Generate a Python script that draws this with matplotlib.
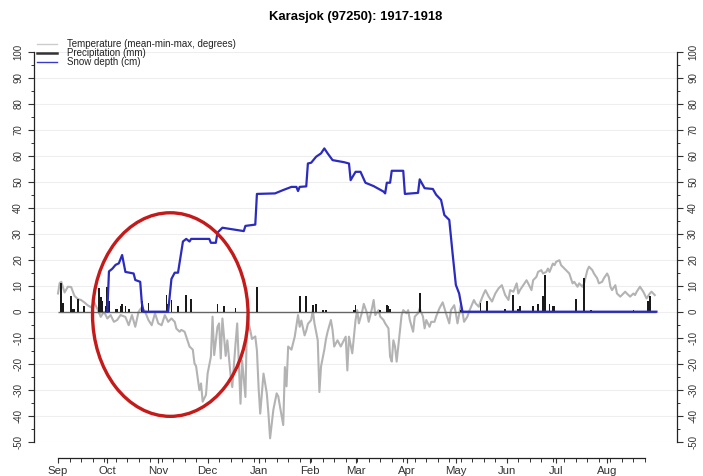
import matplotlib
matplotlib.use("Agg")
import matplotlib.pyplot as plt
from matplotlib.lines import Line2D
from matplotlib.patches import Ellipse
import numpy as np

plt.rcParams['font.family'] = ['Liberation Sans', 'DejaVu Sans']

title = "Karasjok (97250): 1917-1918"
legend_labels = ["Temperature (mean-min-max, degrees)", "Precipitation (mm)", "Snow depth (cm)"]

month_labels = ["Sep", "Oct", "Nov", "Dec", "Jan", "Feb", "Mar", "Apr", "May", "Jun", "Jul", "Aug"]
month_days = [0, 30, 61, 91, 122, 153, 181, 212, 242, 273, 303, 334]

# day index counted from 1 Sep 1917
temp_days = [0, 1, 2, 4, 6, 8, 10, 12, 14, 16, 18, 20, 22, 24, 26, 28, 30, 32, 34, 36,
             38, 41, 43, 45, 47, 49, 51, 53, 55, 57, 59, 61, 63, 65, 67, 69, 71, 72, 74, 75,
             77, 78, 80, 81, 82, 83, 84, 86, 87, 88, 90, 91, 93, 94, 95, 97, 98, 99, 100, 102,
             103, 105, 106, 108, 109, 111, 112, 114, 115, 117, 118, 120, 121, 122, 123, 125, 127, 128, 129, 131,
             133, 134, 135, 137, 138, 139, 140, 142, 143, 144, 146, 147, 148, 150, 151, 152, 154, 155, 156, 158,
             159, 160, 162, 163, 164, 166, 167, 168, 170, 172, 173, 175, 176, 177, 179, 180, 181, 182, 183, 185,
             186, 188, 189, 191, 192, 193, 195, 196, 198, 199, 201, 202, 203, 204, 205, 206, 208, 209, 210, 212,
             213, 214, 216, 217, 219, 220, 222, 223, 224, 226, 227, 229, 230, 232, 234, 236, 238, 239, 241, 242,
             243, 245, 246, 247, 249, 250, 253, 254, 256, 257, 259, 260, 262, 264, 266, 268, 270, 272, 274, 275,
             277, 279, 280, 281, 283, 285, 286, 288, 289, 291, 292, 294, 295, 297, 298, 299, 301, 302, 303, 305,
             306, 308, 309, 311, 313, 314, 316, 317, 319, 320, 322, 323, 325, 326, 328, 329, 331, 332, 334, 335,
             336, 337, 339, 340, 342, 343, 345, 346, 348, 350, 351, 352, 354, 356, 357, 358, 360, 361, 363]
temp_vals = [7.0, 11.0, 11.5, 7.4, 9.6, 9.5, 6.1, 4.9, 4.5, 3.6, 2.5, 1.7, 3.6, 1.0, -2.0, 0.0, -2.6, -1.3, -3.9, -3.2,
             -1.3, -2.0, -5.2, -1.3, -5.8, 0.0, 1.7, 0.0, -3.2, -5.2, -0.6, -4.5, -5.2, -1.3, -3.9, -2.6, -3.9, -6.5, -7.7, -7.0,
             -7.7, -9.6, -13.4, -14.0, -14.6, -19.8, -21.0, -30.2, -27.6, -34.6, -32.0, -23.8, -17.3, -1.9, -16.7, -5.8, -4.5, -18.0, -2.6, -17.0,
             -11.0, -24.5, -29.0, -12.2, -4.5, -35.4, -18.8, -32.8, -1.9, -7.3, -10.5, -9.5, -14.9, -29.0, -39.2, -23.8, -31.4, -39.2, -48.7, -37.7,
             -31.4, -32.6, -36.4, -43.6, -21.3, -28.7, -13.4, -14.6, -12.1, -9.6, -1.3, -5.8, -3.4, -9.1, -7.3, -4.7, -3.2, 0.6, -4.5, -11.0,
             -30.9, -21.0, -14.6, -10.5, -7.7, -3.2, -7.0, -13.4, -11.0, -13.4, -12.1, -9.6, -22.6, -9.6, -16.0, -9.6, -3.2, 0.6, -4.5, 0.0,
             3.0, -0.6, -3.9, 1.3, 4.5, -1.3, 0.6, -1.9, -3.2, -4.5, -6.4, -17.3, -19.2, -11.0, -13.4, -19.2, -7.0, -1.3, 0.6, -0.6,
             0.6, -3.2, -7.7, -1.9, -0.6, 1.3, -1.9, -6.4, -3.2, -5.8, -3.9, -3.9, -1.9, 1.3, 3.6, -0.6, -4.5, 0.6, 2.5, -0.6,
             -4.5, 2.5, 0.0, -3.9, -1.9, 0.0, 4.5, 3.2, 1.9, 3.9, 7.0, 8.3, 5.8, 3.9, 7.0, 9.0, 10.2, 6.4, 4.5, 8.3,
             7.7, 10.9, 7.0, 8.3, 10.2, 12.1, 10.9, 8.3, 12.1, 13.4, 15.3, 16.0, 14.7, 15.3, 16.6, 15.3, 18.5, 17.9, 19.2, 19.8,
             17.9, 16.6, 16.0, 14.7, 10.9, 11.5, 9.6, 10.9, 9.6, 10.9, 16.0, 17.3, 16.0, 14.7, 12.8, 10.9, 11.5, 12.8, 14.7, 13.4,
             9.6, 8.3, 10.2, 7.0, 5.8, 6.4, 7.7, 7.0, 5.8, 7.0, 6.4, 7.7, 9.6, 7.7, 6.4, 5.1, 7.0, 7.7, 6.4]

precip_days = [2, 3, 8, 9, 10, 12, 16, 25, 26, 27, 29, 30, 31, 35, 36, 38, 39, 41, 43, 51,
               52, 55, 66, 67, 69, 73, 78, 81, 97, 101, 108, 121, 147, 151, 155, 157, 161, 163, 180, 181,
               196, 200, 201, 202, 220, 245, 257, 261, 272, 277, 280, 281, 289, 292, 295, 296, 299, 301, 302, 315,
               320, 324, 350, 359, 360]
precip_vals = [11, 3.5, 6, 1, 1, 5, 2, 9, 5.5, 4, 2, 9.5, 4, 1, 1, 2, 3, 2, 1, 4,
               1, 3.5, 6.5, 3, 4.5, 2, 6.5, 5, 3, 2, 1.3, 9.5, 6, 6, 2.5, 3, 0.8, 0.8, 0.6, 2.5,
               0.8, 2.5, 2, 1.2, 7, 0.6, 3.5, 4, 1, 6.5, 1, 2, 2, 3, 6, 14, 3, 2, 2, 5,
               13, 0.6, 0.6, 4, 6]

snow_days = [30, 31, 33, 35, 37, 39, 41, 46, 47, 50, 51, 52, 67, 69, 71, 73, 76, 78, 80, 81,
             92, 93, 96, 97, 100, 106, 113, 114, 120, 121, 132, 137, 142, 145, 146, 147, 151, 152, 154, 157,
             160, 162, 164, 167, 174, 177, 178, 181, 184, 187, 192, 198, 199, 200, 202, 203, 210, 211, 219, 220,
             223, 228, 230, 233, 235, 238, 240, 242, 244, 246, 364]
snow_vals = [0, 15.5, 16.5, 18, 18.6, 21.8, 15.3, 14.7, 12.2, 11.5, 3.3, 0, 0, 12.6, 15, 15, 27, 28, 27, 28,
             28, 26.5, 26.5, 30.4, 32.3, 31.7, 31, 33, 33.5, 45.3, 45.5, 46.8, 48, 48, 46.4, 48, 48.2, 57, 57.3, 59.6,
             60.9, 62.8, 60.9, 58.3, 57.5, 57, 50.6, 53.8, 53.8, 49.6, 48.3, 46.2, 45.5, 49.6, 49.6, 54.2, 54.2, 45.3, 45.7, 50.9,
             47.5, 47.2, 45, 43, 37.2, 35.3, 22.5, 10.3, 7, 0, 0]

W, H = 703, 476
fig = plt.figure(figsize=(W / 100, H / 100), dpi=100)
ax_left, ax_right = 34, 677.3
ax_top, ax_bot = 51.7, 441.7
ax = fig.add_axes([ax_left / W, 1 - ax_bot / H, (ax_right - ax_left) / W, (ax_bot - ax_top) / H])

ax.set_xlim(-14.6, 376.7)
ax.set_ylim(-50, 100)

for g in range(-50, 101, 10):
    ax.axhline(g, color='#eeeeee', lw=0.8, zorder=0)

ax.plot(temp_days, temp_vals, color='#b3b3b3', lw=1.5, zorder=2)
ax.hlines(0, 0, 364, color='#666666', lw=1.0, zorder=3)
ax.bar(precip_days, precip_vals, width=1.1, color='#1a1a1a', zorder=4)
ax.plot(snow_days, snow_vals, color='#2b2bc0', lw=1.6, zorder=5)

ell = Ellipse((68.3, -1.1), 94.6, 78.3, fill=False, edgecolor='#c41a1a', lw=2.4, zorder=6)
ax.add_patch(ell)

# spines / axes
ax.spines['top'].set_visible(False)
ax.spines['bottom'].set_position(('outward', 16.6 * 0.72))
ax.spines['bottom'].set_bounds(0, 357)
for s in ['left', 'right', 'bottom']:
    ax.spines[s].set_linewidth(0.9)
    ax.spines[s].set_color('#222222')

yt = list(range(-50, 101, 10))
ax.set_yticks(yt)
ax.set_yticks(list(range(-45, 100, 10)), minor=True)
ax.set_yticklabels([str(v) for v in yt], rotation=90, va='center', fontsize=7, color='#333333')
ax.tick_params(axis='y', which='major', length=4.3, width=0.8, pad=3.5, colors='#333333',
               left=True, right=True, labelleft=True, labelright=True)
ax.tick_params(axis='y', which='minor', length=2.5, width=0.7, left=True, right=True, colors='#333333')

ax.set_xticks(month_days)
ax.set_xticklabels(month_labels, fontsize=8.2, color='#222222')
ax.set_xticks(list(range(0, 358, 7)), minor=True)
ax.tick_params(axis='x', which='major', length=3.5, width=0.8, pad=2.0, colors='#333333')
ax.tick_params(axis='x', which='minor', length=3.0, width=0.7, colors='#333333')

fig.text(355.5 / W, 1 - 17 / H, title, ha='center', va='center', fontsize=9.4, fontweight='bold')

# legend drawn by hand
leg_styles = [('#cccccc', 1.0), ('#333333', 1.8), ('#3a3ac8', 1.0)]
leg_y = [43.8, 52.8, 61.8]
for (c, lw), yy, lab in zip(leg_styles, leg_y, legend_labels):
    fig.add_artist(Line2D([37 / W, 57 / W], [1 - yy / H, 1 - yy / H], color=c, lw=lw))
    fig.text(67 / W, 1 - yy / H, lab, ha='left', va='center', fontsize=7.0, color='#222222')

fig.savefig("out.png", dpi=100)
